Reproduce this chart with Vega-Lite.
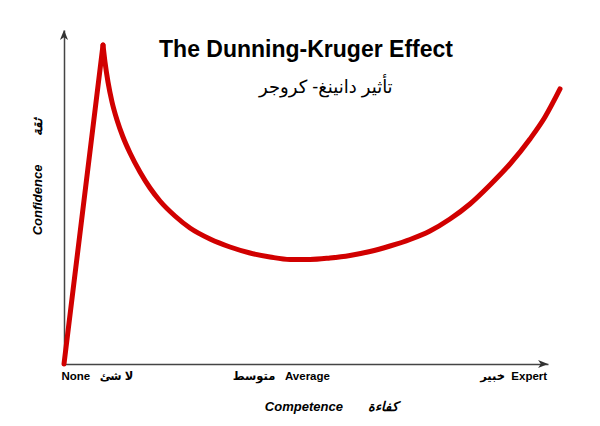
{
  "$schema": "https://vega.github.io/schema/vega-lite/v6.json",
  "width": 484,
  "height": 334,
  "autosize": "none",
  "padding": {"left": 64, "top": 30, "right": 52, "bottom": 62},
  "background": "white",
  "config": {
    "view": {"stroke": null},
    "font": "Liberation Sans, DejaVu Sans, sans-serif"
  },
  "datasets": {
    "curve": [
      {"phase": "rise", "competence": 0, "confidence": 0},
      {"phase": "rise", "competence": 8.06, "confidence": 95.5},
      {"phase": "fall", "competence": 8.06, "confidence": 95.5},
      {"phase": "fall", "competence": 8.47, "confidence": 90.42},
      {"phase": "fall", "competence": 9.09, "confidence": 84.43},
      {"phase": "fall", "competence": 9.92, "confidence": 78.44},
      {"phase": "fall", "competence": 10.95, "confidence": 73.05},
      {"phase": "fall", "competence": 12.19, "confidence": 67.96},
      {"phase": "fall", "competence": 13.64, "confidence": 63.17},
      {"phase": "fall", "competence": 15.7, "confidence": 57.49},
      {"phase": "fall", "competence": 17.77, "confidence": 52.69},
      {"phase": "fall", "competence": 19.83, "confidence": 48.8},
      {"phase": "fall", "competence": 22.93, "confidence": 44.31},
      {"phase": "fall", "competence": 26.03, "confidence": 40.72},
      {"phase": "fall", "competence": 30.17, "confidence": 37.43},
      {"phase": "fall", "competence": 34.3, "confidence": 35.03},
      {"phase": "fall", "competence": 38.43, "confidence": 33.23},
      {"phase": "fall", "competence": 42.56, "confidence": 32.04},
      {"phase": "fall", "competence": 46.69, "confidence": 31.29},
      {"phase": "fall", "competence": 50.83, "confidence": 31.29},
      {"phase": "fall", "competence": 54.96, "confidence": 31.74},
      {"phase": "fall", "competence": 59.09, "confidence": 32.49},
      {"phase": "fall", "competence": 63.22, "confidence": 33.68},
      {"phase": "fall", "competence": 67.36, "confidence": 35.33},
      {"phase": "fall", "competence": 71.49, "confidence": 37.28},
      {"phase": "fall", "competence": 75.62, "confidence": 39.82},
      {"phase": "fall", "competence": 79.75, "confidence": 43.41},
      {"phase": "fall", "competence": 83.88, "confidence": 47.9},
      {"phase": "fall", "competence": 88.02, "confidence": 53.59},
      {"phase": "fall", "competence": 92.15, "confidence": 59.88},
      {"phase": "fall", "competence": 96.28, "confidence": 67.37},
      {"phase": "fall", "competence": 99.38, "confidence": 73.95},
      {"phase": "fall", "competence": 102.48, "confidence": 82.34}
    ]
  },
  "data": {"name": "curve"},
  "layer": [
    {
      "transform": [{"filter": "datum.phase === 'rise'"}],
      "mark": {"type": "line", "color": "#d10000", "strokeWidth": 5, "interpolate": "linear", "strokeCap": "round"},
      "encoding": {
        "x": {
          "field": "competence",
          "type": "quantitative",
          "scale": {"domain": [0, 100], "nice": false, "zero": false},
          "axis": {
            "values": [6.8, 44.8, 92.8],
            "labelExpr": "datum.value < 20 ? 'None\u00a0\u00a0\u00a0لا شئ' : (datum.value < 60 ? 'متوسط\u00a0\u00a0\u00a0Average' : 'خبير\u00a0\u00a0Expert')",
            "ticks": false,
            "tickSize": 0,
            "grid": false,
            "domainColor": "#444444",
            "domainWidth": 1.5,
            "labelFontSize": 11.5,
            "labelFontWeight": "bold",
            "labelColor": "#000000",
            "labelPadding": 6,
            "labelFlush": false,
            "labelOverlap": false,
            "title": "Competence\u00a0\u00a0\u00a0\u00a0\u00a0\u00a0\u00a0كفاءة",
            "titleFontSize": 13,
            "titleFontStyle": "italic",
            "titleFontWeight": "bold",
            "titleColor": "#000000",
            "titleX": 267,
            "titleY": 42,
            "titleAlign": "center",
            "titleBaseline": "middle"
          }
        },
        "y": {
          "field": "confidence",
          "type": "quantitative",
          "scale": {"domain": [0, 100], "nice": false, "zero": false},
          "axis": {
            "labels": false,
            "ticks": false,
            "tickSize": 0,
            "grid": false,
            "domainColor": "#444444",
            "domainWidth": 1.5,
            "title": "Confidence\u00a0\u00a0\u00a0\u00a0\u00a0\u00a0\u00a0\u00a0ثقة",
            "titleFontSize": 13,
            "titleFontStyle": "italic",
            "titleFontWeight": "bold",
            "titleColor": "#000000",
            "titleAngle": -90,
            "titleX": -27,
            "titleY": 146,
            "titleAlign": "center",
            "titleBaseline": "middle"
          }
        }
      }
    },
    {
      "transform": [{"filter": "datum.phase === 'fall'"}],
      "mark": {"type": "line", "color": "#d10000", "strokeWidth": 5, "interpolate": "monotone", "strokeCap": "round"},
      "encoding": {
        "x": {"field": "competence", "type": "quantitative"},
        "y": {"field": "confidence", "type": "quantitative"}
      }
    },
    {
      "data": {"values": [{}]},
      "mark": {"type": "point", "shape": "M0,0L-2.2,-0.9L-1.6,0L-2.2,0.9Z", "filled": true, "color": "#333333", "opacity": 1, "size": 81, "strokeWidth": 0},
      "encoding": {
        "x": {"datum": 100, "type": "quantitative"},
        "y": {"datum": 0, "type": "quantitative"}
      }
    },
    {
      "data": {"values": [{}]},
      "mark": {"type": "point", "shape": "M0,0L-0.9,2.2L0,1.6L0.9,2.2Z", "filled": true, "color": "#333333", "opacity": 1, "size": 81, "strokeWidth": 0},
      "encoding": {
        "x": {"datum": 0, "type": "quantitative"},
        "y": {"datum": 100, "type": "quantitative"}
      }
    },
    {
      "data": {"values": [{}]},
      "mark": {"type": "text", "text": "The Dunning-Kruger Effect", "fontSize": 23, "fontWeight": "bold", "color": "#000000", "align": "center", "baseline": "alphabetic"},
      "encoding": {
        "x": {"datum": 50, "type": "quantitative"},
        "y": {"datum": 91.9, "type": "quantitative"}
      }
    },
    {
      "data": {"values": [{}]},
      "mark": {"type": "text", "text": "تأثير دانينغ- كروجر", "fontSize": 18, "color": "#000000", "align": "center", "baseline": "middle"},
      "encoding": {
        "x": {"datum": 54.1, "type": "quantitative"},
        "y": {"datum": 82.6, "type": "quantitative"}
      }
    }
  ]
}
